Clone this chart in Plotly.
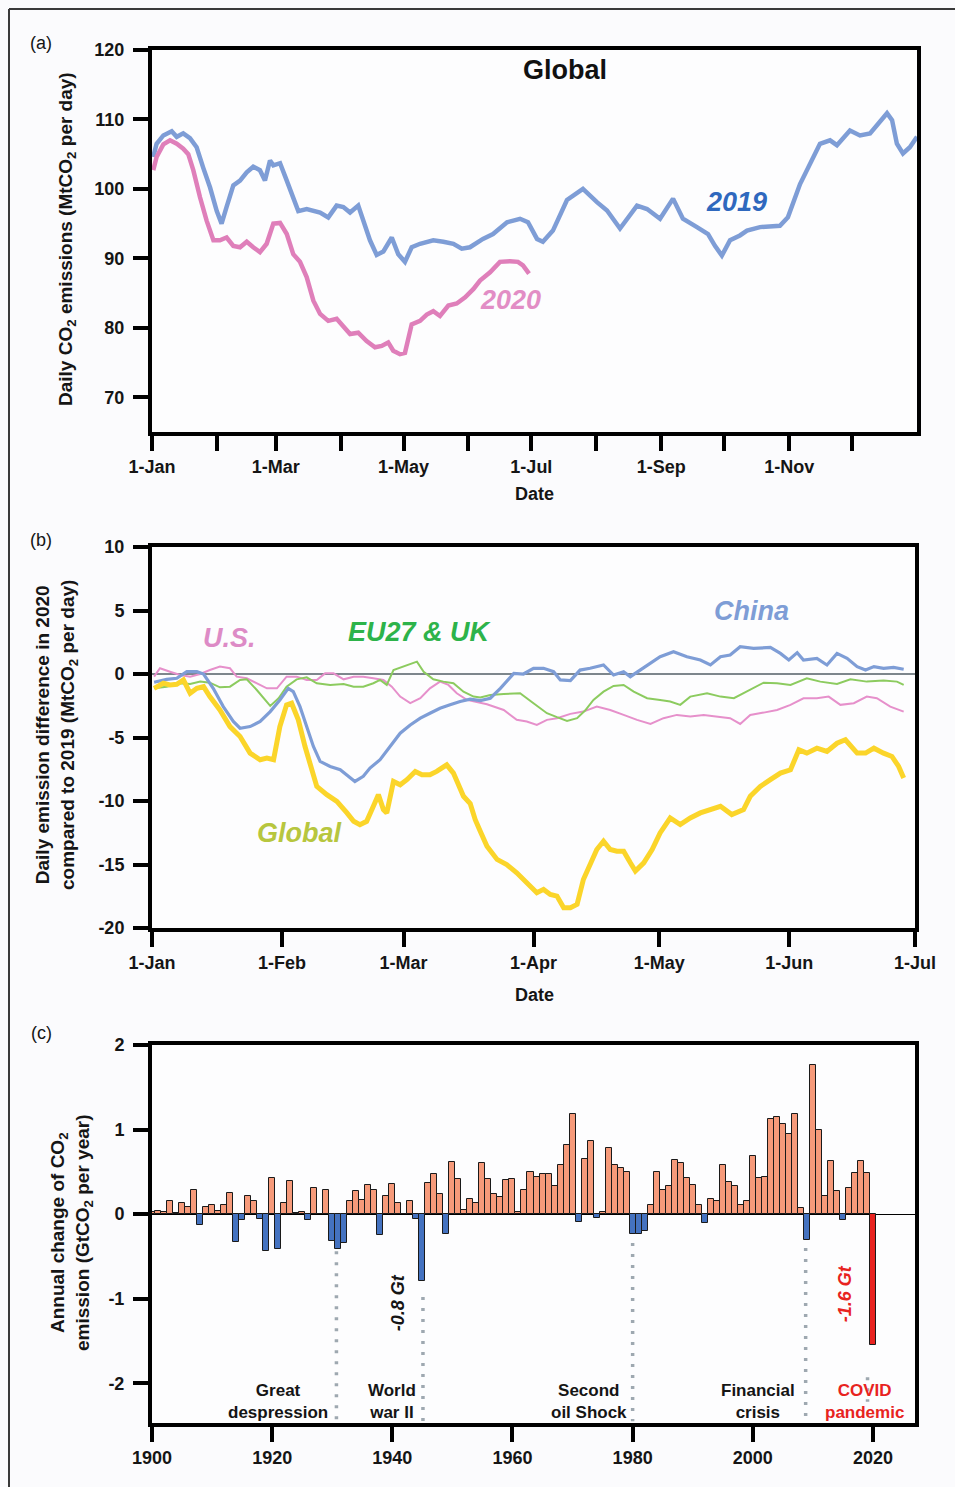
import plotly.graph_objects as go

# ---------------- Panel (a): global daily emissions ----------------
days_2019 = [0.6, 2.2, 5.4, 9.4, 11.8, 14.9, 18.1, 21.3, 24.5, 27.7, 30.9, 33.2, 35.6, 38.8, 42, 45.2, 48.3,
             51.5, 53.9, 56.3, 57.9, 61.1, 64.3, 67.4, 69.8, 73.8, 77, 80.2, 84.1, 88.1, 91.3, 94.5, 98.4,
             100.8, 104, 107.2, 110.4, 114.4, 117.5, 120.7, 123.9, 127.9, 134.2, 139, 143.8, 147.8, 151.7,
             157.9, 162.7, 169.4, 175.6, 179.4, 183.7, 186.5, 191.3, 198, 205.6, 212.3, 217.1, 223.3, 228.1,
             231.4, 236.2, 242.4, 248.6, 253.3, 260, 265.3, 268.6, 271.9, 275.8, 280.5, 283.9, 290.1, 299.6,
             303.4, 309.2, 313.9, 318.7, 323.5, 326.8, 333, 337.8, 342.6, 347.3, 350.7, 353.1, 355.4, 358.3,
             361.6, 365]
emis_2019 = [104.6, 106.5, 107.7, 108.3, 107.5, 108, 107.3, 106, 103, 100.2, 96.8, 95, 97.4, 100.5, 101.2,
             102.4, 103.2, 102.7, 101.2, 104.1, 103.4, 103.7, 101.2, 98.8, 96.8, 97.1, 96.9, 96.6, 95.9, 97.6,
             97.4, 96.6, 97.6, 95.4, 92.6, 90.5, 91, 93, 90.6, 89.5, 91.6, 92.1, 92.6, 92.4, 92.1, 91.4, 91.6,
             92.8, 93.5, 95.2, 95.7, 95.2, 92.8, 92.4, 94, 98.4, 100, 98.1, 96.9, 94.3, 96.4, 97.6, 97.1, 95.7,
             98.6, 95.7, 94.5, 93.5, 91.8, 90.4, 92.6, 93.3, 94, 94.5, 94.7, 95.9, 100.7, 103.6, 106.5, 107,
             106.3, 108.4, 107.7, 108, 109.7, 110.9, 109.9, 106.5, 105.1, 106, 107.5]

days_2020 = [0.6, 2.2, 5.4, 8.6, 11.8, 14.9, 17.3, 19.7, 22.9, 26.1, 29.3, 32.4, 35.6, 38.8, 42, 45.2, 48.3,
             51.5, 54.7, 57.9, 61.1, 64.3, 67.4, 70.6, 73.8, 77, 80.2, 84.1, 88.1, 91.3, 94.5, 98.4, 102.4,
             106.4, 109.6, 112.7, 115.1, 118.3, 120.7, 123.9, 127.9, 131.1, 134.2, 137.4, 141.4, 145.4, 149.4,
             153.4, 156.5, 161.3, 166, 170.8, 174.6, 177, 179.9]
emis_2020 = [102.7, 104.6, 106.4, 107, 106.5, 105.8, 105, 102.7, 98.8, 95.4, 92.6, 92.6, 93, 91.8, 91.6, 92.4,
             91.6, 90.9, 92.1, 95, 95.1, 93.5, 90.6, 89.5, 87.3, 83.9, 82, 81, 81.3, 80.1, 79.1, 79.3, 78.1,
             77.2, 77.4, 77.9, 76.7, 76.2, 76.4, 80.5, 81, 81.9, 82.4, 81.7, 83.2, 83.5, 84.4, 85.6, 86.8, 88,
             89.5, 89.6, 89.5, 89, 87.8]

a_tickvals = [0, 59, 120, 181, 243, 304]
a_ticktext = ["1-Jan", "1-Mar", "1-May", "1-Jul", "1-Sep", "1-Nov"]
a_minor_tickvals = [31, 90, 151, 212, 273, 334]
a_ytickvals = [70, 80, 90, 100, 110, 120]

# ---------------- Panel (b): 2020 minus 2019 ----------------
days_global = [0.5, 2.7, 4.3, 5.9, 7.5, 9.1, 10.7, 12.3, 13.8, 16.2, 18.6, 21.0, 23.4, 25.8, 27.4, 29.0, 30.5,
               32.1, 33.3, 34.9, 36.5, 38.1, 39.3, 41.7, 44.1, 46.5, 48.1, 49.6, 51.2, 52.8, 54.0, 55.2, 56.0,
               57.6, 59.2, 60.8, 62.8, 64.4, 66.3, 67.9, 70.3, 71.9, 74.3, 75.9, 77.1, 78.3, 79.9, 82.3, 84.6,
               87.0, 89.4, 91.8, 93.4, 95.0, 96.6, 98.2, 99.8, 101.4, 102.9, 104.5, 106.1, 107.7, 109.3, 110.9,
               112.5, 114.1, 115.3, 117.3, 119.3, 121.2, 123.6, 126.0, 128.4, 130.8, 133.2, 135.6, 138.3, 141.1,
               142.7, 145.1, 147.5, 149.9, 152.3, 154.3, 156.2, 158.6, 161.0, 163.4, 165.4, 168.2, 170.2, 172.2,
               174.5, 176.5, 178.1, 179.3]
diff_global = [-1.13, -0.73, -0.86, -0.81, -0.47, -1.52, -1.13, -1.0, -1.78, -2.83, -4.14, -4.92, -6.23, -6.75,
               -6.62, -6.75, -4.14, -2.43, -2.3, -3.61, -5.71, -7.54, -8.85, -9.5, -10.03, -10.94, -11.6, -11.86,
               -11.6, -10.42, -9.5, -10.68, -10.94, -8.46, -8.72, -8.32, -7.67, -7.93, -7.93, -7.67, -7.15, -7.8,
               -9.63, -10.2, -11.47, -12.38, -13.56, -14.6, -15.0, -15.65, -16.44, -17.23, -16.96, -17.36,
               -17.49, -18.4, -18.4, -18.14, -16.18, -14.87, -13.82, -13.17, -13.82, -13.95, -13.95, -14.87,
               -15.52, -14.87, -13.82, -12.51, -11.34, -11.86, -11.34, -10.94, -10.68, -10.42, -11.07, -10.68,
               -9.63, -8.85, -8.32, -7.8, -7.54, -5.97, -6.23, -5.84, -6.1, -5.45, -5.18, -6.23, -6.23, -5.84,
               -6.23, -6.49, -7.28, -8.19]

days_china = [0.5, 3.5, 5.9, 8.3, 10.7, 12.3, 14.6, 17.0, 19.4, 21.0, 23.4, 25.8, 28.2, 30.5, 32.5, 33.7, 35.3,
              36.9, 38.5, 40.1, 42.5, 44.9, 46.5, 48.4, 50.4, 52.0, 54.4, 56.8, 59.2, 61.6, 64.0, 66.3, 68.7,
              71.1, 73.5, 75.9, 78.3, 80.7, 83.1, 86.3, 88.6, 91.0, 93.4, 95.8, 97.4, 99.8, 102.1, 104.5, 107.7,
              110.1, 112.5, 114.1, 116.5, 118.9, 121.2, 124.4, 127.6, 130.8, 133.2, 135.6, 137.9, 140.3, 143.5,
              147.5, 149.9, 151.9, 153.9, 155.4, 158.6, 161.0, 163.4, 165.8, 168.2, 170.2, 172.2, 174.5, 176.9,
              179.3]
diff_china = [-0.65, -0.42, -0.34, 0.18, 0.18, 0.0, -1.13, -2.57, -3.74, -4.27, -4.14, -3.74, -2.96, -2.04,
              -1.13, -1.39, -2.57, -4.14, -5.71, -6.88, -7.28, -7.54, -7.93, -8.46, -8.06, -7.41, -6.75, -5.71,
              -4.66, -4.01, -3.48, -3.09, -2.7, -2.43, -2.17, -1.98, -2.1, -1.91, -1.13, 0.05, 0.0, 0.45, 0.45,
              0.18, -0.47, -0.52, 0.31, 0.45, 0.71, -0.08, 0.18, -0.21, 0.31, 0.84, 1.36, 1.75, 1.36, 1.1, 0.71,
              1.36, 1.49, 2.15, 2.02, 2.09, 1.62, 1.1, 1.68, 1.1, 1.23, 0.71, 1.62, 1.23, 0.58, 0.31, 0.58, 0.45,
              0.52, 0.37]

days_eu = [0.5, 3.5, 6.7, 9.1, 11.5, 13.8, 16.2, 18.6, 21.0, 22.6, 25.0, 28.2, 30.2, 32.1, 34.5, 36.9, 39.3,
           42.5, 45.7, 48.1, 50.4, 52.8, 54.4, 56.0, 57.6, 60.0, 62.4, 63.2, 64.8, 67.1, 69.5, 71.9, 74.3, 76.7,
           78.3, 80.7, 83.9, 87.8, 91.0, 94.2, 96.6, 99.0, 101.4, 103.3, 105.3, 107.7, 110.1, 112.5, 114.9, 118.1,
           121.2, 123.6, 126.0, 128.4, 132.4, 135.6, 138.8, 141.9, 145.9, 149.1, 152.3, 156.2, 159.4, 163.4,
           166.6, 170.5, 174.5, 177.7, 179.3]
diff_eu = [-1.13, -1.0, -0.73, -0.79, -0.6, -0.68, -1.05, -1.0, -0.47, -0.42, -1.26, -2.51, -1.91, -1.0, -0.42,
           -0.26, -0.73, -0.86, -0.79, -1.0, -1.0, -0.73, -0.47, -0.86, 0.31, 0.58, 0.89, 0.97, 0.18, -0.42, -0.6,
           -0.73, -1.39, -1.78, -1.85, -1.65, -1.57, -1.52, -2.3, -3.09, -3.4, -3.69, -3.48, -2.88, -2.04, -1.39,
           -0.94, -0.86, -1.39, -1.91, -2.04, -2.17, -2.43, -1.78, -1.52, -1.78, -1.91, -1.39, -0.68, -0.73,
           -0.86, -0.34, -0.6, -0.79, -0.42, -0.6, -0.52, -0.6, -0.86]

days_us = [0.5, 1.9, 4.3, 6.7, 9.1, 11.5, 13.8, 16.2, 18.6, 20.2, 22.6, 25.0, 27.4, 29.8, 32.1, 34.5, 36.9,
           39.3, 41.3, 43.3, 45.7, 48.1, 50.4, 52.8, 55.2, 57.2, 59.2, 61.6, 64.0, 66.3, 68.7, 70.7, 72.7, 75.1,
           78.3, 79.9, 83.9, 87.0, 89.4, 91.8, 94.2, 96.6, 99.8, 102.9, 106.1, 109.3, 112.5, 115.7, 118.9, 122.0,
           125.2, 128.4, 131.6, 134.7, 137.9, 140.3, 142.7, 145.9, 149.1, 152.3, 155.4, 158.6, 161.4, 164.2,
           167.4, 170.5, 172.9, 176.1, 179.3]
diff_us = [-0.21, 0.45, 0.18, -0.08, -0.21, 0.0, 0.31, 0.58, 0.45, -0.21, -0.34, -0.73, -1.13, -1.13, -0.21,
           -0.21, -0.47, -0.47, 0.05, 0.05, -0.42, -0.21, -0.21, -0.34, -0.47, -1.0, -1.78, -2.3, -1.91, -1.13,
           -0.6, -0.86, -1.52, -2.04, -2.3, -2.38, -2.83, -3.61, -3.74, -4.01, -3.61, -3.48, -3.14, -2.96, -2.57,
           -2.83, -3.22, -3.61, -3.93, -3.48, -3.22, -3.35, -3.22, -3.35, -3.48, -3.93, -3.22, -3.04, -2.83,
           -2.43, -1.91, -1.91, -1.78, -2.43, -2.3, -1.78, -1.91, -2.57, -2.96]

b_tickvals = [0, 31, 60, 91, 121, 152, 182]
b_ticktext = ["1-Jan", "1-Feb", "1-Mar", "1-Apr", "1-May", "1-Jun", "1-Jul"]
b_ytickvals = [-20, -15, -10, -5, 0, 5, 10]

# ---------------- Panel (c): annual change 1900-2020 ----------------
years = list(range(1900, 2021))
annual_change = [
    0.03, 0.04, 0.03, 0.16, 0.01, 0.13, 0.09, 0.29, -0.13, 0.09,      # 1900s
    0.11, 0.04, 0.11, 0.25, -0.33, -0.07, 0.21, 0.15, -0.06, -0.44,   # 1910s
    0.43, -0.41, 0.13, 0.39, 0.01, 0.02, -0.07, 0.31, 0.0, 0.29,      # 1920s
    -0.32, -0.41, -0.34, 0.16, 0.27, 0.17, 0.35, 0.29, -0.25, 0.22,   # 1930s
    0.36, 0.13, 0.0, 0.16, -0.06, -0.79, 0.37, 0.47, 0.24, -0.24,     # 1940s
    0.62, 0.41, 0.05, 0.18, 0.13, 0.60, 0.41, 0.24, 0.20, 0.40,       # 1950s
    0.41, 0.03, 0.29, 0.50, 0.44, 0.48, 0.48, 0.33, 0.58, 0.82,       # 1960s
    1.18, -0.09, 0.65, 0.86, -0.04, 0.02, 0.78, 0.58, 0.54, 0.50,     # 1970s
    -0.24, -0.24, -0.20, 0.11, 0.50, 0.29, 0.33, 0.64, 0.60, 0.43,    # 1980s
    0.35, 0.11, -0.10, 0.18, 0.15, 0.58, 0.38, 0.33, 0.11, 0.16,      # 1990s
    0.69, 0.43, 0.44, 1.12, 1.15, 1.07, 0.95, 1.19, 0.07, -0.30,      # 2000s
    1.76, 1.00, 0.21, 0.63, 0.27, -0.07, 0.31, 0.49, 0.63, 0.49,      # 2010s
    -1.55,                                                            # 2020
]
event_x = [1930.7, 1945.1, 1980.0, 2008.8, 2019.1]
event_top = [-0.44, -0.98, -0.34, -0.40, -1.93]
event_bottom = [-2.45, -2.45, -2.45, -2.45, -2.22]
event_labels = ["Great<br>despression", "World<br>war II", "Second<br>oil Shock", "Financial<br>crisis",
                "COVID<br>pandemic"]
event_label_x = [1921.0, 1940.0, 1972.7, 2000.8, 2018.6]
c_tickvals = [1900, 1920, 1940, 1960, 1980, 2000, 2020]
c_ytickvals = [-2, -1, 0, 1, 2]

# ---------------- styling ----------------
FONT = "Liberation Sans, Arial, Helvetica, sans-serif"
INK = "#151515"
W, H = 955, 1487
BLUE = "#7E9DD6"
PINK = "#DF7FBA"
YELLOW = "#FBD52A"
GREEN_LINE = "#8CCB5F"
US_PINK = "#E690CB"
BAR_POS = "#F69A7A"
BAR_NEG = "#4472C0"
BAR_COVID = "#E8231F"


def px_x(p):
    return p / W


def px_y(p):
    return 1 - p / H


def hyphen_labels(vals):
    # the reference prints negatives with a plain hyphen
    return [("-" + str(abs(v))) if v < 0 else str(v) for v in vals]


fig = go.Figure()

# Panel (a)
fig.add_trace(go.Scatter(x=days_2019, y=emis_2019, mode="lines", line=dict(color=BLUE, width=4.5),
                         xaxis="x", yaxis="y", showlegend=False))
fig.add_trace(go.Scatter(x=days_2020, y=emis_2020, mode="lines", line=dict(color=PINK, width=4.5),
                         xaxis="x", yaxis="y", showlegend=False))

# Panel (b)
fig.add_trace(go.Scatter(x=days_us, y=diff_us, mode="lines", line=dict(color=US_PINK, width=2),
                         xaxis="x2", yaxis="y2", showlegend=False))
fig.add_trace(go.Scatter(x=days_eu, y=diff_eu, mode="lines", line=dict(color=GREEN_LINE, width=2),
                         xaxis="x2", yaxis="y2", showlegend=False))
fig.add_trace(go.Scatter(x=days_china, y=diff_china, mode="lines", line=dict(color=BLUE, width=3.2),
                         xaxis="x2", yaxis="y2", showlegend=False))
fig.add_trace(go.Scatter(x=days_global, y=diff_global, mode="lines", line=dict(color=YELLOW, width=5),
                         xaxis="x2", yaxis="y2", showlegend=False))

# Panel (c)
bar_colors = [BAR_COVID if y == 2020 else (BAR_POS if v >= 0 else BAR_NEG) for y, v in zip(years, annual_change)]
fig.add_trace(go.Bar(x=years, y=annual_change, width=1.0, marker=dict(color=bar_colors,
                     line=dict(color="#1a1a1a", width=1)), xaxis="x3", yaxis="y3", showlegend=False))
for ex, et, eb in zip(event_x, event_top, event_bottom):
    fig.add_trace(go.Scatter(x=[ex, ex], y=[et, eb], mode="lines",
                             line=dict(color="#9EA8B0", width=3.5, dash="3px,8px"),
                             xaxis="x3", yaxis="y3", showlegend=False, hoverinfo="skip"))

axis_common = dict(showline=True, linewidth=4, linecolor="black", mirror=True, ticks="outside",
                   ticklen=15, tickwidth=4, tickcolor="black", showgrid=False, automargin=False,
                   tickfont=dict(family=FONT, size=18, color=INK, weight="bold"))

xdom_a = [px_x(152), px_x(917)]
xdom_bc = [px_x(152), px_x(915)]

fig.update_layout(
    template="none",
    width=W, height=H, autosize=False,
    margin=dict(l=0, r=0, t=0, b=0, pad=0, autoexpand=False),
    paper_bgcolor="#FBFBFD", plot_bgcolor="#FDFDFE",
    bargap=0,
    font=dict(family=FONT, color=INK),
    xaxis=dict(domain=xdom_a, anchor="y", range=[0, 365], tickmode="array", tickvals=a_tickvals,
               ticktext=a_ticktext, zeroline=False,
               minor=dict(tickmode="array", tickvals=a_minor_tickvals, ticks="outside", ticklen=15,
                          tickwidth=4, tickcolor="black", showgrid=False),
               **axis_common),
    yaxis=dict(domain=[px_y(432), px_y(50)], anchor="x", range=[65, 120], tickmode="array",
               tickvals=a_ytickvals, ticktext=hyphen_labels(a_ytickvals), ticklabelstandoff=5,
               zeroline=False, **axis_common),
    xaxis2=dict(domain=xdom_bc, anchor="y2", range=[0, 182], tickmode="array", tickvals=b_tickvals,
                ticktext=b_ticktext, zeroline=False, **axis_common),
    yaxis2=dict(domain=[px_y(928), px_y(547)], anchor="x2", range=[-20, 10], tickmode="array",
                tickvals=b_ytickvals, ticktext=hyphen_labels(b_ytickvals), ticklabelstandoff=5,
                zeroline=True, zerolinecolor="#7d868c", zerolinewidth=1.5, **axis_common),
    xaxis3=dict(domain=xdom_bc, anchor="y3", range=[1900, 2027], tickmode="array", tickvals=c_tickvals,
                ticktext=[str(v) for v in c_tickvals], zeroline=False, **axis_common),
    yaxis3=dict(domain=[px_y(1423), px_y(1045)], anchor="x3", range=[-2.47, 2.0], tickmode="array",
                tickvals=c_ytickvals, ticktext=hyphen_labels(c_ytickvals), ticklabelstandoff=5,
                zeroline=True, zerolinecolor="black", zerolinewidth=1, **axis_common),
)

ann = []


def paper_text(text, x, y, size=17, angle=0, bold=True, color=INK, italic=False):
    ann.append(dict(text=text, x=px_x(x), y=px_y(y), xref="paper", yref="paper", showarrow=False,
                    xanchor="center", yanchor="middle", textangle=angle,
                    font=dict(family=FONT, size=size, color=color, weight="bold" if bold else "normal",
                              style="italic" if italic else "normal")))


def data_text(text, x, y, xr, yr, size=26, color=INK, italic=True, angle=0):
    ann.append(dict(text=text, x=x, y=y, xref=xr, yref=yr, showarrow=False, xanchor="center",
                    yanchor="middle", textangle=angle,
                    font=dict(family=FONT, size=size, color=color, weight="bold",
                              style="italic" if italic else "normal")))


# panel letters
paper_text("(a)", 41, 43, size=18, bold=False)
paper_text("(b)", 41, 540, size=18, bold=False)
paper_text("(c)", 41, 1033, size=18, bold=False)

# axis titles
paper_text("Daily CO<sub>2</sub> emissions (MtCO<sub>2</sub> per day)", 67, 239, size=19, angle=-90)
paper_text("Date", 534, 494, size=18)
paper_text("Daily emission difference in 2020<br>compared to 2019 (MtCO<sub>2</sub> per day)", 56, 735,
           size=19, angle=-90)
paper_text("Date", 534, 995, size=18)
paper_text("Annual change of CO<sub>2</sub><br>emission (GtCO<sub>2</sub> per year)", 71, 1233, size=19,
           angle=-90)

# series labels
data_text("Global", 197, 117.1, "x", "y", size=27, color="#111111", italic=False)
data_text("2019", 279, 98.1, "x", "y", size=27, color="#2F68BE")
data_text("2020", 171, 84.0, "x", "y", size=27, color="#E28DC5")
data_text("U.S.", 18.4, 2.83, "x2", "y2", size=27, color="#DD8BC6")
data_text("EU27 &amp; UK", 64, 3.3, "x2", "y2", size=27, color="#2DB34A")
data_text("China", 143, 4.96, "x2", "y2", size=27, color="#7E9DD6")
data_text("Global", 35.3, -12.5, "x2", "y2", size=27, color="#B7C63E")

# panel (c) labels
for lbl, lx in zip(event_labels, event_label_x):
    col = BAR_COVID if "COVID" in lbl else INK
    data_text(lbl, lx, -2.22, "x3", "y3", size=17, color=col, italic=False)
data_text("-0.8 Gt", 1941.0, -1.05, "x3", "y3", size=18, color=INK, italic=True, angle=-90)
data_text("-1.6 Gt", 2015.3, -0.94, "x3", "y3", size=18, color=BAR_COVID, italic=True, angle=-90)

fig.update_layout(annotations=ann)

# outer frame (left and top edges visible in the reference)
fig.add_shape(type="line", xref="paper", yref="paper", x0=px_x(9), x1=1.01, y0=px_y(9), y1=px_y(9),
              line=dict(color="#3a3a3a", width=2))
fig.add_shape(type="line", xref="paper", yref="paper", x0=px_x(9), x1=px_x(9), y0=-0.01, y1=px_y(9),
              line=dict(color="#3a3a3a", width=2))

fig.write_html("out.html", config={"displayModeBar": False},
               post_script="document.body.style.margin='0';document.body.style.overflow='hidden';")
